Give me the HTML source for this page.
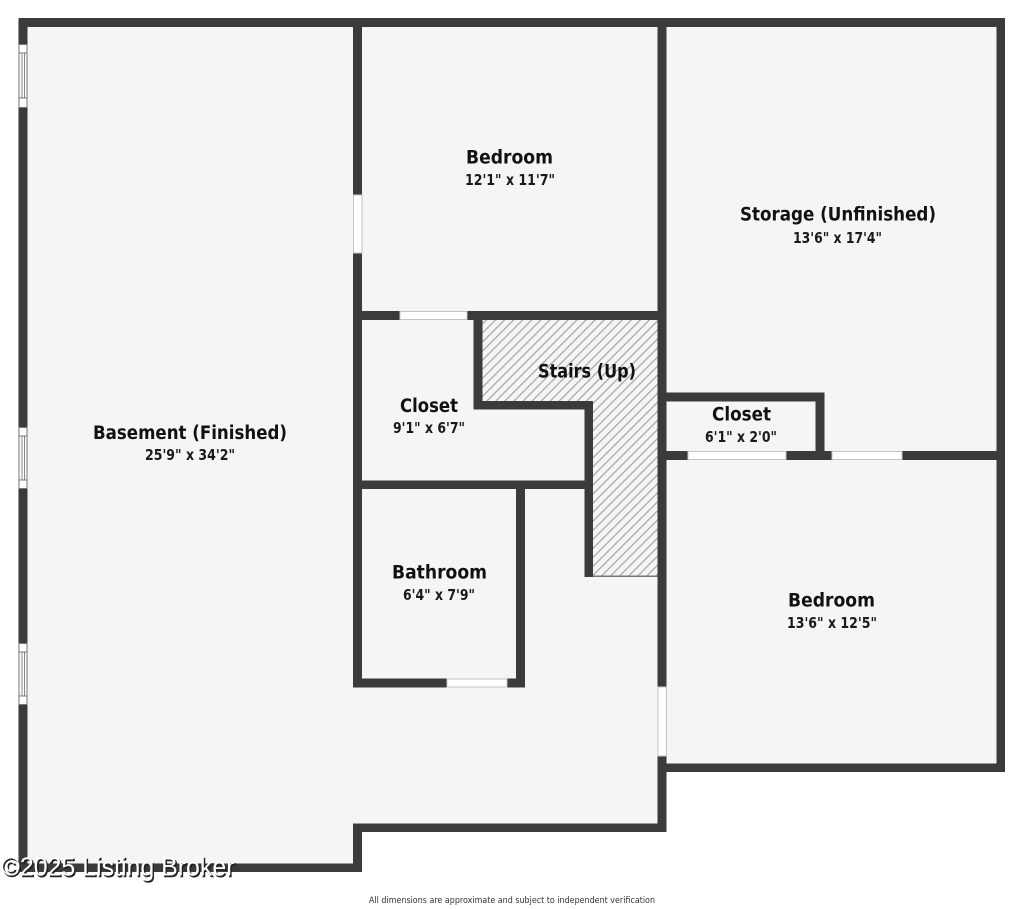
<!DOCTYPE html>
<html><head><meta charset="utf-8"><style>html,body{margin:0;padding:0;background:#fff}svg{display:block}</style></head>
<body>
<svg width="1024" height="909" viewBox="0 0 1024 909" xmlns="http://www.w3.org/2000/svg">
<defs>
<pattern id="h" width="6.4" height="6.4" patternUnits="userSpaceOnUse" patternTransform="rotate(-45)">
<rect width="6.4" height="6.4" fill="#f5f5f5"/><rect x="0" y="0" width="6.4" height="1.2" fill="#a4a4a4"/>
</pattern>
</defs>
<rect width="1024" height="909" fill="#fff"/>
<polygon points="18,18 1005,18 1005,772 666,772 666,832 362,832 362,872 18,872" fill="#f5f5f5"/>
<polygon points="482,320 658,320 658,576 593,576 593,401 482,401" fill="url(#h)"/>
<rect x="593" y="575.5" width="65" height="1.5" fill="#777"/>
<g fill="#3b3b3b">
<rect x="18.5" y="18" width="986.5" height="9"/>
<rect x="18.5" y="18" width="9" height="854"/>
<rect x="996.5" y="18" width="8.5" height="754"/>
<rect x="657.5" y="763.5" width="347.5" height="8.5"/>
<rect x="657.5" y="18" width="9" height="814"/>
<rect x="353" y="823.5" width="313.5" height="8.5"/>
<rect x="353" y="823.5" width="9" height="48.5"/>
<rect x="18.5" y="863.5" width="343.5" height="8.5"/>
<rect x="353" y="18" width="9" height="669.5"/>
<rect x="353" y="311" width="309" height="9"/>
<rect x="473.5" y="311" width="9" height="98.5"/>
<rect x="473.5" y="401" width="119.5" height="8.5"/>
<rect x="584.5" y="401" width="8.5" height="176"/>
<rect x="353" y="480.5" width="240" height="8.5"/>
<rect x="516" y="480.5" width="9" height="207"/>
<rect x="353" y="678.5" width="172" height="9"/>
<rect x="662" y="392.5" width="162.5" height="9"/>
<rect x="815.5" y="392.5" width="9" height="67.5"/>
<rect x="662" y="451" width="343" height="9"/>
</g>
<!-- interior windows -->
<g fill="#fff" stroke="#c4c4c4" stroke-width="1">
<rect x="353.5" y="195" width="8.5" height="58"/>
<rect x="400" y="311.5" width="67" height="8"/>
<rect x="447" y="679" width="60" height="8"/>
<rect x="688" y="451.5" width="98" height="8"/>
<rect x="832" y="451.5" width="70" height="8"/>
<rect x="658" y="687" width="8.5" height="69"/>
</g>
<!-- left wall windows -->
<g>
<rect x="18.5" y="44" width="9" height="64" fill="#fff"/>
<rect x="19" y="44.5" width="8" height="63" fill="none" stroke="#777"/>
<rect x="22" y="53" width="2.5" height="45" fill="#fff" stroke="#888"/>
<path d="M19 53H27M19 98H27" stroke="#777"/>
<rect x="18.5" y="427" width="9" height="62" fill="#fff"/>
<rect x="19" y="427.5" width="8" height="61" fill="none" stroke="#777"/>
<rect x="22" y="436" width="2.5" height="44" fill="#fff" stroke="#888"/>
<path d="M19 436H27M19 480H27" stroke="#777"/>
<rect x="18.5" y="643" width="9" height="62" fill="#fff"/>
<rect x="19" y="643.5" width="8" height="61" fill="none" stroke="#777"/>
<rect x="22" y="652" width="2.5" height="44" fill="#fff" stroke="#888"/>
<path d="M19 652H27M19 696H27" stroke="#777"/>
</g>
<g font-family="'DejaVu Sans',sans-serif" font-weight="700" fill="#111" font-size="18.5">
<text x="93" y="439" textLength="194" lengthAdjust="spacingAndGlyphs">Basement (Finished)</text>
<text x="466" y="163.5" textLength="87" lengthAdjust="spacingAndGlyphs">Bedroom</text>
<text x="740" y="220.5" textLength="196" lengthAdjust="spacingAndGlyphs">Storage (Unfinished)</text>
<text x="538" y="377.5" textLength="98" lengthAdjust="spacingAndGlyphs">Stairs (Up)</text>
<text x="400" y="412" textLength="58" lengthAdjust="spacingAndGlyphs">Closet</text>
<text x="712" y="420.5" textLength="59" lengthAdjust="spacingAndGlyphs">Closet</text>
<text x="392" y="578.5" textLength="95" lengthAdjust="spacingAndGlyphs">Bathroom</text>
<text x="788" y="606.5" textLength="87" lengthAdjust="spacingAndGlyphs">Bedroom</text>
</g>
<g font-family="'DejaVu Sans',sans-serif" font-weight="700" fill="#1a1a1a" font-size="15.5">
<text x="145" y="460" textLength="90" lengthAdjust="spacingAndGlyphs">25'9" x 34'2"</text>
<text x="465" y="185" textLength="90" lengthAdjust="spacingAndGlyphs">12'1" x 11'7"</text>
<text x="793" y="243" textLength="89" lengthAdjust="spacingAndGlyphs">13'6" x 17'4"</text>
<text x="393" y="433" textLength="72" lengthAdjust="spacingAndGlyphs">9'1" x 6'7"</text>
<text x="705" y="442" textLength="72" lengthAdjust="spacingAndGlyphs">6'1" x 2'0"</text>
<text x="403" y="600" textLength="72" lengthAdjust="spacingAndGlyphs">6'4" x 7'9"</text>
<text x="787" y="628" textLength="90" lengthAdjust="spacingAndGlyphs">13'6" x 12'5"</text>
</g>
<text x="369" y="903" font-family="'DejaVu Sans',sans-serif" font-size="8.5" fill="#333" textLength="286" lengthAdjust="spacingAndGlyphs">All dimensions are approximate and subject to independent verification</text>
<text x="2.8" y="876.8" font-family="'Liberation Sans',sans-serif" font-size="26" fill="#222" stroke="#222" stroke-width=".5" textLength="233" lengthAdjust="spacingAndGlyphs">©2025 Listing Broker</text>
<text x="1.5" y="875.5" font-family="'Liberation Sans',sans-serif" font-size="26" fill="#fff" textLength="233" lengthAdjust="spacingAndGlyphs">©2025 Listing Broker</text>
</svg>
</body></html>
